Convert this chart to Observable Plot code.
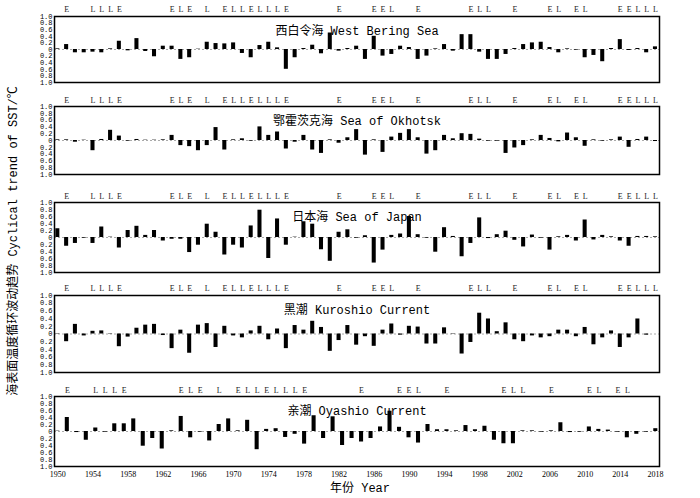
<!DOCTYPE html>
<html><head><meta charset="utf-8">
<script src="https://cdn.jsdelivr.net/npm/d3@7"></script>
<script src="https://cdn.jsdelivr.net/npm/@observablehq/plot@0.6"></script>
<style>
body{margin:0;background:#fff;}
#wrap{position:relative;width:700px;height:498px;overflow:hidden;background:#fff;}
.ytitle{position:absolute;left:14px;top:241px;transform:translate(-50%,-50%) rotate(-90deg);white-space:nowrap;font-family:"Liberation Mono","Noto Sans CJK SC",monospace;font-size:12px;line-height:14px;color:#000;}
.xtitle{position:absolute;left:360px;top:489px;transform:translate(-50%,-50%);white-space:nowrap;font-family:"Liberation Mono","Noto Sans CJK SC",monospace;font-size:12px;line-height:13px;color:#000;}
</style>
</head><body><div id="wrap"></div>
<script>
// ---- data ----
const years = d3.range(1950, 2019);          // 1950–2018
const yearsOyashio = d3.range(1950, 2014);   // 1950–2013
const xTicks = [1950,1954,1958,1962,1966,1970,1974,1978,1982,1986,1990,1994,1998,2002,2006,2010,2014,2018];
const yTicks = [-1,-0.8,-0.6,-0.4,-0.2,0,0.2,0.4,0.6,0.8,1];

const titles = ["西白令海 West Bering Sea","鄂霍茨克海 Sea of Okhotsk","日本海 Sea of Japan","黑潮 Kuroshio Current","亲潮 Oyashio Current"];

const westBering = [0.02,0.15,-0.1,-0.1,-0.08,-0.1,0.02,0.25,-0.04,0.33,-0.06,-0.22,0.1,0.1,-0.3,-0.25,0.01,0.22,0.18,0.17,0.2,-0.12,-0.25,0.12,0.22,0.05,-0.6,-0.25,0.03,0.13,-0.13,0.5,-0.05,0.03,0.1,-0.3,0.4,-0.2,-0.15,0.1,0.06,-0.3,-0.2,0.02,0.15,-0.05,0.45,0.45,-0.08,-0.3,-0.3,-0.15,0.03,0.15,0.2,0.22,0.06,-0.1,0.02,-0.02,-0.25,-0.18,-0.37,0.03,0.3,-0.03,0.03,-0.1,0.08];
const okhotsk = [0.02,0.02,-0.05,0.01,-0.3,0.03,0.3,0.13,-0.02,0.03,0.01,0.01,0.02,0.15,-0.15,-0.18,-0.3,-0.15,0.38,-0.28,0.02,0.05,-0.02,0.4,0.15,0.25,-0.25,-0.05,0.15,-0.28,-0.38,0.02,-0.08,0.08,0.32,-0.43,0.02,-0.35,0.1,0.21,0.32,0.08,-0.4,-0.3,0.15,0.05,0.2,0.18,0.04,-0.02,-0.02,-0.38,-0.22,-0.15,0.02,0.15,0.06,-0.04,0.22,0.08,-0.17,0.02,-0.02,0.02,0.1,-0.2,0.03,0.1,-0.03];
const japan = [0.25,-0.25,-0.17,-0.02,-0.17,0.3,0.01,-0.3,0.2,0.32,0.06,0.2,-0.1,-0.05,-0.05,-0.43,-0.22,0.38,0.15,-0.5,-0.22,-0.3,0.33,0.78,-0.6,0.53,-0.22,0.01,0.45,0.38,-0.35,-0.68,0.15,0.22,-0.02,0.05,-0.73,-0.36,0.06,0.1,0.6,0.08,-0.02,-0.42,0.28,0.03,-0.55,-0.17,0.56,-0.03,0.08,0.18,-0.08,-0.27,0.07,-0.02,-0.36,0.02,0.06,-0.1,0.5,-0.07,0.06,0.02,-0.1,-0.25,0.03,0.03,0.02];
const kuroshio = [0.01,-0.2,0.25,-0.05,0.07,0.08,0.01,-0.33,-0.08,0.15,0.23,0.25,-0.04,-0.38,0.1,-0.5,0.23,0.27,-0.35,0.2,-0.05,-0.1,0.08,0.2,-0.15,0.13,-0.38,0.22,0.1,0.33,0.17,-0.45,-0.17,0.22,-0.29,-0.07,-0.32,0.1,0.26,-0.03,0.2,0.18,-0.26,-0.26,0.16,0.01,-0.52,-0.22,0.54,0.39,0.06,0.29,-0.15,-0.2,-0.05,-0.1,-0.07,0.1,0.1,-0.07,0.17,-0.28,-0.1,0.08,-0.35,-0.1,0.39,-0.03,0.0];
const oyashio = [0.01,0.4,-0.03,-0.25,0.1,-0.02,0.22,0.22,0.36,-0.42,-0.2,-0.5,0.02,0.43,-0.18,-0.02,-0.27,0.2,0.36,0.02,0.32,-0.52,0.06,0.08,-0.17,-0.08,-0.36,0.45,-0.2,0.42,-0.4,-0.2,-0.3,-0.2,0.13,0.58,0.12,-0.18,-0.33,0.2,0.05,0.05,0.02,0.17,0.05,0.15,-0.25,-0.35,-0.35,0.02,0.02,-0.02,0.02,0.25,-0.03,-0.02,0.13,0.06,0.04,-0.02,-0.18,-0.08,-0.02,0.08];

const ensoYears = [1951,1954,1955,1956,1957,1963,1964,1965,1967,1969,1970,1971,1972,1973,1974,1975,1976,1982,1986,1987,1988,1991,1997,1998,1999,2002,2006,2007,2009,2010,2014,2015,2016,2017,2018];
const ensoPhases = ["E","L","L","L","E","E","L","E","L","E","L","L","E","L","L","L","E","E","E","E","L","E","E","L","L","E","E","L","E","L","E","E","L","L","L"];

// ---- drawing ----
const wrap = document.getElementById("wrap");
const xDomainMain = [1949.62, 2018.46];
const xDomainOyashio = [1949.65, 2013.39];
const barHalf = 0.23;
const mixedFont = "'Liberation Mono','Noto Sans CJK SC',monospace";

function panel(cfg) {
  const data = cfg.years.map((y, i) => ({year: y, value: cfg.values[i]}));
  const enso = cfg.ensoYears.map((y, i) => ({year: y, phase: cfg.ensoPhases[i]}));
  const half = cfg.domain === xDomainOyashio ? barHalf * 0.93 : barHalf;
  const p = Plot.plot({
    width: 700,
    height: cfg.mTop + cfg.frameH + 4,
    marginLeft: 54, marginRight: 41, marginTop: cfg.mTop, marginBottom: 4,
    style: {background: "transparent", overflow: "visible", fontFamily: "'Liberation Mono',monospace", fontSize: "7px", color: "#000"},
    x: {domain: cfg.domain, axis: null},
    y: {domain: [-1, 1], ticks: yTicks, tickSize: 0, tickPadding: 2, label: null,
        tickFormat: d => Math.abs(d) < 1e-9 ? "0" : Math.abs(d).toFixed(1)},
    marks: [
      Plot.ruleY([0], {stroke: "#aaa", strokeDasharray: "2,2", strokeWidth: 1}),
      Plot.rect(data, {x1: d => d.year - half, x2: d => d.year + half, y1: 0, y2: "value", fill: "#000"}),
      Plot.frame({stroke: "#000", strokeWidth: 1.5}),
      Plot.text([cfg.title], {frameAnchor: "top", dy: 10, fontSize: 12, fontFamily: mixedFont, fill: "#000"}),
      Plot.text(enso, {x: "year", text: "phase", frameAnchor: "top", dy: cfg.letterDy, fontSize: 8, fontFamily: "'Liberation Serif',serif", fill: "#222"})
    ]
  });
  p.style.position = "absolute";
  p.style.left = "0px";
  p.style.top = cfg.top + "px";
  wrap.append(p);
}

panel({values: westBering, years, domain: xDomainMain, title: titles[0], ensoYears, ensoPhases, top: 0, mTop: 16, frameH: 66, letterDy: -10});
panel({values: okhotsk, years, domain: xDomainMain, title: titles[1], ensoYears, ensoPhases, top: 88, mTop: 18, frameH: 68, letterDy: -9});
panel({values: japan, years, domain: xDomainMain, title: titles[2], ensoYears, ensoPhases, top: 184, mTop: 18, frameH: 70, letterDy: -9});
panel({values: kuroshio, years, domain: xDomainMain, title: titles[3], ensoYears, ensoPhases, top: 277, mTop: 18, frameH: 77, letterDy: -10});
panel({values: oyashio, years: yearsOyashio, domain: xDomainOyashio, title: titles[4],
       ensoYears: ensoYears.slice(0, 30), ensoPhases: ensoPhases.slice(0, 30), top: 378, mTop: 18, frameH: 70, letterDy: -9});

// bottom year labels
const axisPlot = Plot.plot({
  width: 700, height: 16, marginLeft: 54, marginRight: 41, marginTop: 0, marginBottom: 0,
  style: {background: "transparent", overflow: "visible"},
  x: {domain: xDomainMain, axis: null},
  marks: [
    Plot.text(xTicks, {x: d => d, text: d => String(d), frameAnchor: "middle", fontSize: 8, fontFamily: "'Liberation Serif',serif", fill: "#000"})
  ]
});
axisPlot.style.position = "absolute";
axisPlot.style.left = "0px";
axisPlot.style.top = "466px";
wrap.append(axisPlot);

const yt = document.createElement("div");
yt.className = "ytitle";
yt.textContent = "海表面温度循环波动趋势 Cyclical trend of SST/℃";
wrap.append(yt);
const xt = document.createElement("div");
xt.className = "xtitle";
xt.textContent = "年份 Year";
wrap.append(xt);
</script>
</body></html>
